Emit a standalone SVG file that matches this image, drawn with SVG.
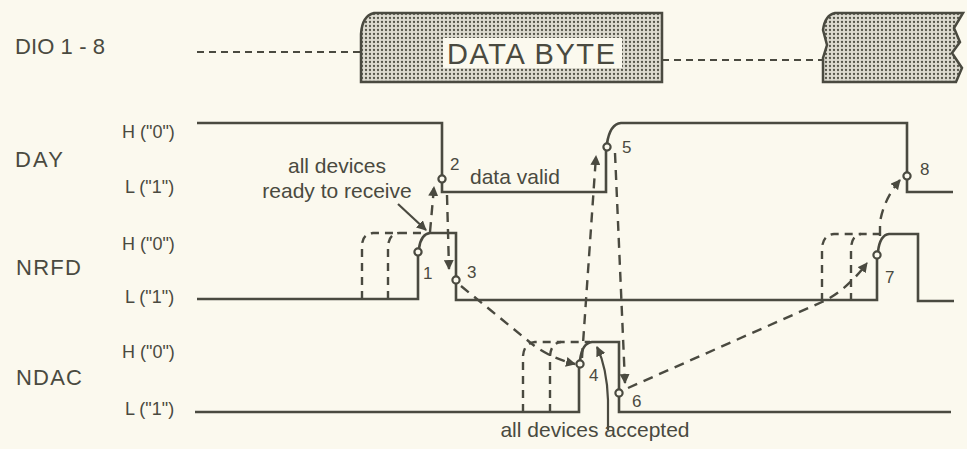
<svg xmlns="http://www.w3.org/2000/svg" width="967" height="449" viewBox="0 0 967 449">
<defs>
<pattern id="dots" width="4" height="4" patternUnits="userSpaceOnUse">
<rect width="4" height="4" fill="#dddbd0"/>
<circle cx="2" cy="2" r="1.15" fill="#55554a"/>
</pattern>
<marker id="ah" viewBox="0 0 10 10" refX="9" refY="5" markerWidth="10" markerHeight="10" markerUnits="userSpaceOnUse" orient="auto">
<path d="M0,0 L10,5 L0,10 z" fill="#4a4a40"/>
</marker>
<style>
.t{font-family:"Liberation Sans",Arial,sans-serif;fill:#4a4a40}
.sig{font-size:22px}
.lvl{font-size:18px}
.ann{font-size:21px}
.num{font-size:17px}
.tr{fill:none;stroke:#4a4a40;stroke-width:2.6}
.pre{fill:none;stroke:#4a4a40;stroke-width:2.4;stroke-dasharray:8 6}
.bus{fill:none;stroke:#4a4a40;stroke-width:1.8;stroke-dasharray:7 5}
.cn{fill:none;stroke:#4a4a40;stroke-width:2.4;stroke-dasharray:10 7}
.cs{fill:none;stroke:#4a4a40;stroke-width:2.2}
.pt{fill:#fbf9ee;stroke:#4a4a40;stroke-width:2.2}
</style>
</defs>
<rect width="967" height="449" fill="#fbf9ee"/>

<g id="labels">
<text class="t sig" x="15" y="54" textLength="90">DIO 1 - 8</text>
<text class="t sig" x="15" y="167" textLength="48">DAY</text>
<text class="t sig" x="16" y="275" textLength="65">NRFD</text>
<text class="t sig" x="16" y="385" textLength="66">NDAC</text>
<text class="t lvl" x="122" y="138">H ("0")</text>
<text class="t lvl" x="125" y="193">L ("1")</text>
<text class="t lvl" x="122" y="250">H ("0")</text>
<text class="t lvl" x="125" y="303">L ("1")</text>
<text class="t lvl" x="122" y="358">H ("0")</text>
<text class="t lvl" x="125" y="415">L ("1")</text>
</g>

<g id="dio">
<path class="bus" d="M197 52 L360 52"/>
<path d="M361 82 L361 34 Q362 16 374 13 L662 13 L662 82 Z" fill="url(#dots)" stroke="#4a4a40" stroke-width="2.5"/>
<rect x="443" y="38" width="179" height="30" fill="#fbf9ee"/>
<text class="t" x="447" y="64" font-size="29" textLength="168">DATA BYTE</text>
<path class="bus" d="M662 60 L823 60"/>
<path d="M823 82 L823 58 L827 45 L823 30 Q825 15 835 13 L963 13 L954 28 L960 42 L952 53 L962 68 L956 82 Z" fill="url(#dots)" stroke="#4a4a40" stroke-width="2.5"/>
</g>

<g id="day">
<path class="tr" d="M197 123 L442 123 L442 175.5"/>
<path class="tr" d="M442 182.5 L442 192 L606 192 L606 150.5"/>
<path class="tr" d="M607 143.5 Q610 124 621 123 L907 123 L907 172.5"/>
<path class="tr" d="M907 179.5 L907 192 L953 192"/>
</g>

<g id="nrfd">
<path class="tr" d="M197 299 L418 299 L418 255.5"/>
<path class="tr" d="M419 248.5 Q421 234 430 233 L456 233 L456 276.5"/>
<path class="tr" d="M456 283.5 L456 300 L877 300 L877 258.5"/>
<path class="tr" d="M878 251.5 Q880 235 889 234 L918 234 L918 301 L954 301"/>
<path class="pre" d="M362 299 L362 246 Q362 234 373 233 L427 233"/>
<path class="pre" d="M388 299 L388 246 Q389 234 399 233"/>
<path class="pre" d="M822 301 L822 248 Q823 235 834 234 L884 234"/>
<path class="pre" d="M851 301 L851 248 Q852 235 861 234"/>
</g>

<g id="ndac">
<path class="tr" d="M195 412 L579 412 L579 367.5"/>
<path class="tr" d="M580 360.5 Q582 343 592 342 L619 342 L619 389.5"/>
<path class="tr" d="M619 396.5 L619 412 L951 412"/>
<path class="pre" d="M523 412 L523 356 Q524 343 535 342 L590 342"/>
<path class="pre" d="M550 412 L550 356 Q551 343 561 342"/>
</g>

<g id="events">
<g id="e1"><circle class="pt" cx="418" cy="252" r="3.6"/><text class="t num" x="423" y="279">1</text></g>
<g id="e2"><circle class="pt" cx="442" cy="179" r="3.6"/><text class="t num" x="450" y="170">2</text></g>
<g id="e3"><circle class="pt" cx="456" cy="280" r="3.6"/><text class="t num" x="467" y="278">3</text></g>
<g id="e4"><circle class="pt" cx="580" cy="364" r="3.6"/><text class="t num" x="589" y="381">4</text></g>
<g id="e5"><circle class="pt" cx="607" cy="147" r="3.6"/><text class="t num" x="622" y="153">5</text></g>
<g id="e6"><circle class="pt" cx="619" cy="393" r="3.6"/><text class="t num" x="632" y="407">6</text></g>
<g id="e7"><circle class="pt" cx="877" cy="255" r="3.6"/><text class="t num" x="885" y="283">7</text></g>
<g id="e8"><circle class="pt" cx="907" cy="176" r="3.6"/><text class="t num" x="920" y="175">8</text></g>
</g>

<g id="annotations">
<text class="t ann" x="337" y="173" text-anchor="middle">all devices</text>
<text class="t ann" x="337" y="198" text-anchor="middle">ready to receive</text>
<text class="t ann" x="470" y="184">data valid</text>
<text class="t ann" x="595" y="437" text-anchor="middle">all devices accepted</text>
</g>

<g id="connectors">
<path class="cs" d="M398 204 L426 230" marker-end="url(#ah)"/>
<path class="cn" d="M430 232 L434 187" marker-end="url(#ah)"/>
<path class="cn" d="M447 195 L449 269" marker-end="url(#ah)"/>
<path class="cn" d="M461 286 L532 344 Q550 358 575 364" marker-end="url(#ah)"/>
<path class="cs" d="M608 430 L608 400 Q607 368 597 347" marker-end="url(#ah)"/>
<path class="cn" d="M582 358 L596 156" marker-end="url(#ah)"/>
<path class="cn" d="M615 153 L625 383" marker-end="url(#ah)"/>
<path class="cn" d="M628 388 L822 302 Q846 291 867 263" marker-end="url(#ah)"/>
<path class="cn" d="M880 236 L880 222 Q884 199 900 180" marker-end="url(#ah)"/>
</g>
</svg>
